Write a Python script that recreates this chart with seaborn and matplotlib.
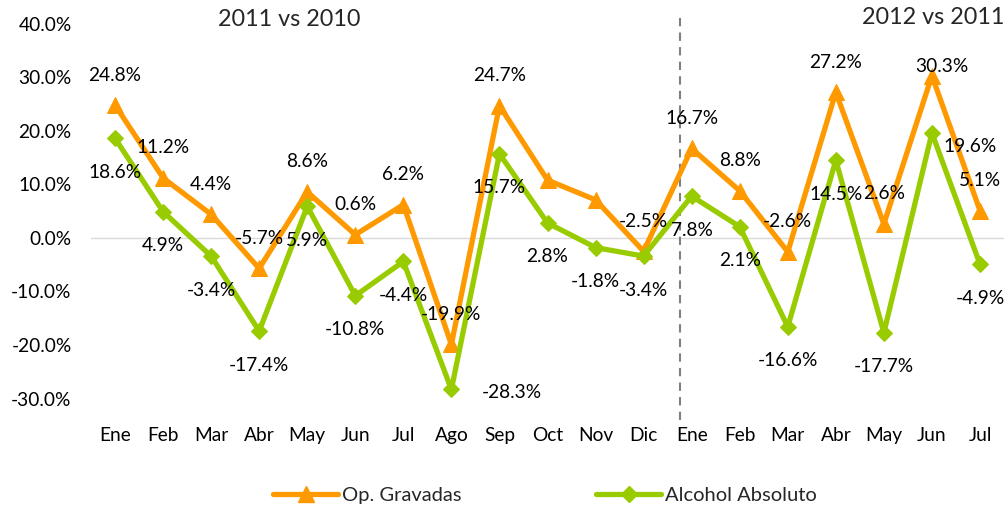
import numpy as np
import pandas as pd
import matplotlib
matplotlib.use("Agg")
import matplotlib.pyplot as plt
import seaborn as sns
from matplotlib.ticker import FuncFormatter
from matplotlib.lines import Line2D

# ---- data ----
months = ["Ene", "Feb", "Mar", "Abr", "May", "Jun", "Jul", "Ago", "Sep", "Oct",
          "Nov", "Dic", "Ene", "Feb", "Mar", "Abr", "May", "Jun", "Jul"]
op_gravadas = [24.8, 11.2, 4.4, -5.7, 8.6, 0.6, 6.2, -19.9, 24.7, 10.8,
               7.1, -2.5, 16.7, 8.8, -2.6, 27.2, 2.6, 30.3, 5.1]
alcohol_abs = [18.6, 4.9, -3.4, -17.4, 5.9, -10.8, -4.4, -28.3, 15.7, 2.8,
               -1.8, -3.4, 7.8, 2.1, -16.6, 14.5, -17.7, 19.6, -4.9]
op_labeled = [True] * 9 + [False, False] + [True] * 8
series_names = ["Op. Gravadas", "Alcohol Absoluto"]
period_titles = ["2011 vs 2010", "2012 vs 2011"]
y_ticks = [-30, -20, -10, 0, 10, 20, 30, 40]

# ---- style ----
sns.set_style("white")
plt.rcParams["font.family"] = ["Lato", "DejaVu Sans"]
ORANGE = "#FF9900"
GREEN = "#99CC00"
FS = 13.8

x = np.arange(len(months))
df = pd.DataFrame({
    "x": np.concatenate([x, x]),
    "value": op_gravadas + alcohol_abs,
    "serie": [series_names[0]] * len(x) + [series_names[1]] * len(x),
})

fig = plt.figure(figsize=(10.07, 5.09), dpi=100)
ax = fig.add_axes([91 / 1007, 1 - 420 / 509, (1004 - 91) / 1007, 407 / 509])

sns.lineplot(data=df[df.serie == series_names[0]], x="x", y="value", ax=ax,
             color=ORANGE, lw=3.8, marker="^", markersize=11,
             markeredgecolor=ORANGE, legend=False, zorder=3)
sns.lineplot(data=df[df.serie == series_names[1]], x="x", y="value", ax=ax,
             color=GREEN, lw=3.8, marker="D", markersize=8,
             markeredgecolor=GREEN, legend=False, zorder=4)

ax.set_xlim(-0.5, len(months) - 0.5)
ax.set_ylim(-34, 42)
ax.set_yticks(y_ticks)
ax.yaxis.set_major_formatter(FuncFormatter(lambda v, p: f"{v:.1f}%"))
ax.set_xticks(x)
ax.set_xticklabels(months)
ax.tick_params(axis="both", length=0, labelsize=FS, colors="black")
ax.tick_params(axis="y", pad=14)
ax.tick_params(axis="x", pad=5)
ax.set_xlabel("")
ax.set_ylabel("")
for s in ax.spines.values():
    s.set_visible(False)
ax.axhline(0, color="#D9D9D9", lw=1, zorder=1)
ax.axvline(11.76, color="#808080", lw=1.5, ls=(0, (4, 3)), zorder=1)

# ---- data labels ----
def fmt(v):
    return f"{v:.1f}%"

for i, v in enumerate(op_gravadas):
    if not op_labeled[i]:
        continue
    dx, dy = 0, 30
    if i == 17:
        dx, dy = 10, 9
    ax.annotate(fmt(v), (i, v), xytext=(dx, dy), textcoords="offset pixels",
                ha="center", va="center", fontsize=FS, color="black", zorder=5)

for i, v in enumerate(alcohol_abs):
    dx, dy = 0, -34
    if i == 7:
        dx, dy = 60, -3
    if i == 17:
        dx, dy = 38, -14
    ax.annotate(fmt(v), (i, v), xytext=(dx, dy), textcoords="offset pixels",
                ha="center", va="center", fontsize=FS, color="black", zorder=5)

# ---- period titles ----
fig.text(289 / 1007, 1 - 20 / 509, period_titles[0], ha="center", va="center", fontsize=16.8)
fig.text(933 / 1007, 1 - 18 / 509, period_titles[1], ha="center", va="center", fontsize=16.8)

# ---- legend ----
handles = [
    Line2D([], [], color=ORANGE, lw=3.8, marker="^", markersize=11),
    Line2D([], [], color=GREEN, lw=3.8, marker="D", markersize=8),
]
fig.legend(handles, series_names, loc="center", bbox_to_anchor=(545 / 1007, 1 - 495 / 509),
           ncol=2, frameon=False, fontsize=14.5, handlelength=3.2, handletextpad=0.2,
           columnspacing=6.7)

fig.savefig("out.png", dpi=100)
